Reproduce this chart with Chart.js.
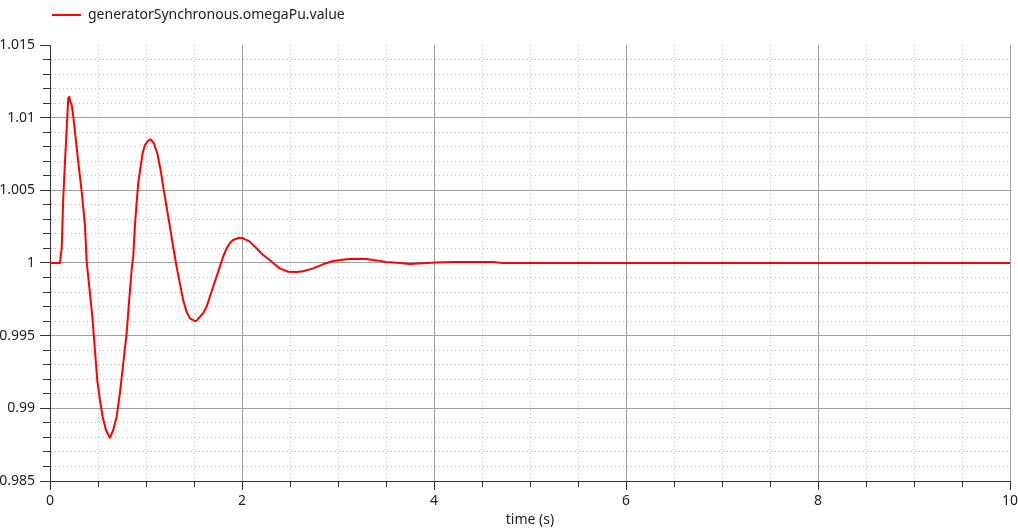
<!DOCTYPE html>
<html>
<head>
<meta charset="utf-8">
<script src="https://cdn.jsdelivr.net/npm/chart.js@4"></script>
<style>
    body { margin: 0; background: #fff; }
    #caixa { width: 1018px; height: 529px; }
</style>
</head>
<body>
<div id="caixa"><canvas id="grafico" width="1018" height="529"></canvas></div>
<script>
// tempo (s) e velocidade do gerador (pu)
const tempo = [
    0, 0.104, 0.122, 0.138, 0.156, 0.174, 0.190, 0.201, 0.212, 0.226, 0.243, 0.260,
    0.294, 0.330, 0.364, 0.382, 0.416, 0.444, 0.468, 0.492, 0.520, 0.548, 0.583,
    0.624, 0.659, 0.694, 0.728, 0.763, 0.798, 0.825, 0.850, 0.867, 0.884, 0.902,
    0.919, 0.944, 0.965, 0.989, 1.023, 1.048, 1.082, 1.117, 1.152, 1.179, 1.214,
    1.249, 1.283, 1.318, 1.353, 1.387, 1.422, 1.457, 1.509, 1.527, 1.595, 1.631,
    1.665, 1.699, 1.735, 1.769, 1.803, 1.839, 1.873, 1.907, 1.970, 2.012, 2.081,
    2.151, 2.220, 2.289, 2.324, 2.393, 2.480, 2.567, 2.636, 2.740, 2.844, 2.948,
    3.087, 3.191, 3.296, 3.400, 3.504, 3.642, 3.746, 3.885, 4.024, 4.197, 4.613,
    4.717, 10
];
const omegaPu = [
    1, 1, 1.00103, 1.00447, 1.00697, 1.00929, 1.01133, 1.01144, 1.01110, 1.01087, 1.01007, 1.00903,
    1.00697, 1.00491, 1.00261, 1.00009, 0.99791, 0.99608, 0.99401, 0.99195, 0.99057, 0.98942, 0.98851,
    0.98798, 0.98851, 0.98942, 0.99103, 0.99310, 0.99516, 0.99745, 0.99952, 1.00043, 1.00250, 1.00411,
    1.00548, 1.00663, 1.00755, 1.00812, 1.00842, 1.00851, 1.00824, 1.00755, 1.00640, 1.00525, 1.00387,
    1.00250, 1.00112, 0.99975, 0.99860, 0.99745, 0.99665, 0.99619, 0.99601, 0.99603, 0.99654, 0.99699,
    0.99768, 0.99837, 0.99906, 0.99975, 1.00043, 1.00101, 1.00136, 1.00158, 1.00174, 1.00170, 1.00147,
    1.00101, 1.00055, 1.00021, 1.00000, 0.99963, 0.99940, 0.99938, 0.99943, 0.99963, 0.99991, 1.00014,
    1.00025, 1.00030, 1.00027, 1.00018, 1.00007, 1.00000, 0.99993, 0.99998, 1.00003, 1.00007, 1.00007,
    1.00000, 1
];
const rotuloSerie = 'generatorSynchronous.omegaPu.value';
const rotuloEixoX = 'time (s)';

const corGrade = '#a0a0a0';
const corGradeFina = '#bcbcbc';
const corEixo = '#333333';

function ehMaior(valor, passo) {
    const r = valor / passo;
    return Math.abs(r - Math.round(r)) < 1e-6;
}

Chart.defaults.font.family = '"Noto Sans", sans-serif';
Chart.defaults.font.size = 14;
Chart.defaults.color = '#222';

const pontos = tempo.map((t, i) => ({ x: t, y: omegaPu[i] }));

new Chart(document.getElementById('grafico'), {
    type: 'line',
    data: {
        datasets: [{
            label: rotuloSerie,
            data: pontos,
            borderColor: '#ff0000',
            backgroundColor: '#ff0000',
            borderWidth: 2,
            pointRadius: 0,
            tension: 0,
            borderJoinStyle: 'round'
        }]
    },
    options: {
        responsive: false,
        animation: false,
        layout: {
            padding: { top: 6, right: 0, left: 0, bottom: 0 }
        },
        plugins: {
            legend: {
                position: 'top',
                align: 'start',
                fullSize: false,
                labels: {
                    boxWidth: 29,
                    boxHeight: 2,
                    padding: 2,
                    color: '#222',
                    generateLabels(chart) {
                        const itens = Chart.defaults.plugins.legend.labels.generateLabels(chart);
                        itens.forEach(item => { item.lineWidth = 0; });
                        return itens;
                    }
                }
            },
            tooltip: { enabled: false }
        },
        scales: {
            x: {
                type: 'linear',
                min: 0,
                max: 10,
                afterFit(escala) {
                    escala.height = 48;
                    escala.paddingRight = 8;
                },
                ticks: {
                    stepSize: 0.5,
                    autoSkip: false,
                    maxRotation: 0,
                    padding: 3,
                    color: '#222',
                    callback(valor) {
                        return ehMaior(valor, 2) ? String(valor) : '';
                    }
                },
                grid: {
                    tickLength: 9,
                    color: ctx => ehMaior(ctx.tick.value, 2) ? corGrade : corGradeFina,
                    tickColor: corEixo,
                    tickBorderDash: ctx => ehMaior(ctx.tick.value, 2) ? [] : [5, 50]
                },
                border: {
                    color: corEixo,
                    width: 1,
                    dash: ctx => ehMaior(ctx.tick.value, 2) ? [] : [1, 3]
                },
                title: {
                    display: true,
                    text: rotuloEixoX,
                    color: '#222',
                    padding: { top: 0, bottom: 1 }
                }
            },
            margem: {
                axis: 'x',
                type: 'linear',
                position: 'top',
                afterFit(escala) { escala.height = 13; },
                ticks: { display: false },
                grid: { display: false },
                border: { display: false }
            },
            y: {
                min: 0.985,
                max: 1.015,
                afterFit(escala) { escala.width = 50; },
                ticks: {
                    stepSize: 0.001,
                    autoSkip: false,
                    padding: 5,
                    color: '#222',
                    callback(valor) {
                        return ehMaior(valor, 0.005) ? String(parseFloat(valor.toFixed(3))) : '';
                    }
                },
                grid: {
                    tickLength: 10,
                    color: ctx => {
                        if (Math.abs(ctx.tick.value - 1.015) < 1e-6) return 'rgba(0,0,0,0)';
                        return ehMaior(ctx.tick.value, 0.005) ? corGrade : corGradeFina;
                    },
                    tickColor: corEixo,
                    tickBorderDash: ctx => ehMaior(ctx.tick.value, 0.005) ? [] : [0, 3, 7, 50]
                },
                border: {
                    color: corEixo,
                    width: 1,
                    dash: ctx => ehMaior(ctx.tick.value, 0.005) ? [] : [1, 3]
                }
            }
        }
    }
});
</script>
</body>
</html>
